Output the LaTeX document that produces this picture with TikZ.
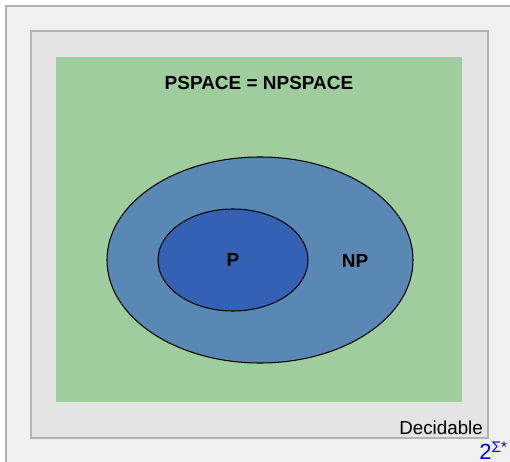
\documentclass[tikz,border=0pt]{standalone}
\usepackage{fontspec}
\setmainfont{Liberation Sans}
\usepackage{xcolor}
\usetikzlibrary{shapes,positioning}

\definecolor{outerbg}{HTML}{F0F0F0}
\definecolor{innerbg}{HTML}{E3E3E3}
\definecolor{spacegreen}{HTML}{A0CD9E}
\definecolor{npblue}{HTML}{5A88B4}
\definecolor{pblue}{HTML}{3461B3}

\begin{document}
\begin{tikzpicture}[x=0.02cm, y=-0.02cm,
    box/.style={draw=gray!60, line width=0.8pt},
    cls/.style={ellipse, draw, line width=0.6pt, inner sep=0pt},
    lbl/.style={font=\bfseries\fontsize{10.8}{13}\selectfont},
]
\useasboundingbox (0,0) rectangle (510,462);
% nested boxes
\draw[box, fill=outerbg] (6,6) rectangle (540,500);
\draw[box, fill=innerbg] (31,31) rectangle (488,438);
\fill[spacegreen] (56,57) rectangle (462,402);
% complexity classes
\node[cls, fill=npblue, minimum width=306*0.02cm, minimum height=206*0.02cm] (np) at (260,260) {};
\node[cls, fill=pblue, minimum width=150*0.02cm, minimum height=102*0.02cm] (p) at (233,260) {};
\node[lbl] (plbl) at (p.center) {P};
\node[lbl] (nplbl) at (355,261) {NP};
\node[lbl] (pspace) at (259,83) {PSPACE = NPSPACE};
\node[anchor=south east, font=\fontsize{10.7}{13}\selectfont, inner sep=1pt] (dec) at (485,437) {Decidable};
\node[anchor=south east, text=blue, font=\fontsize{12.5}{14}\selectfont, inner sep=1pt] (sigma) at (510,462) {2\textsuperscript{Σ*}};
\end{tikzpicture}
\end{document}
